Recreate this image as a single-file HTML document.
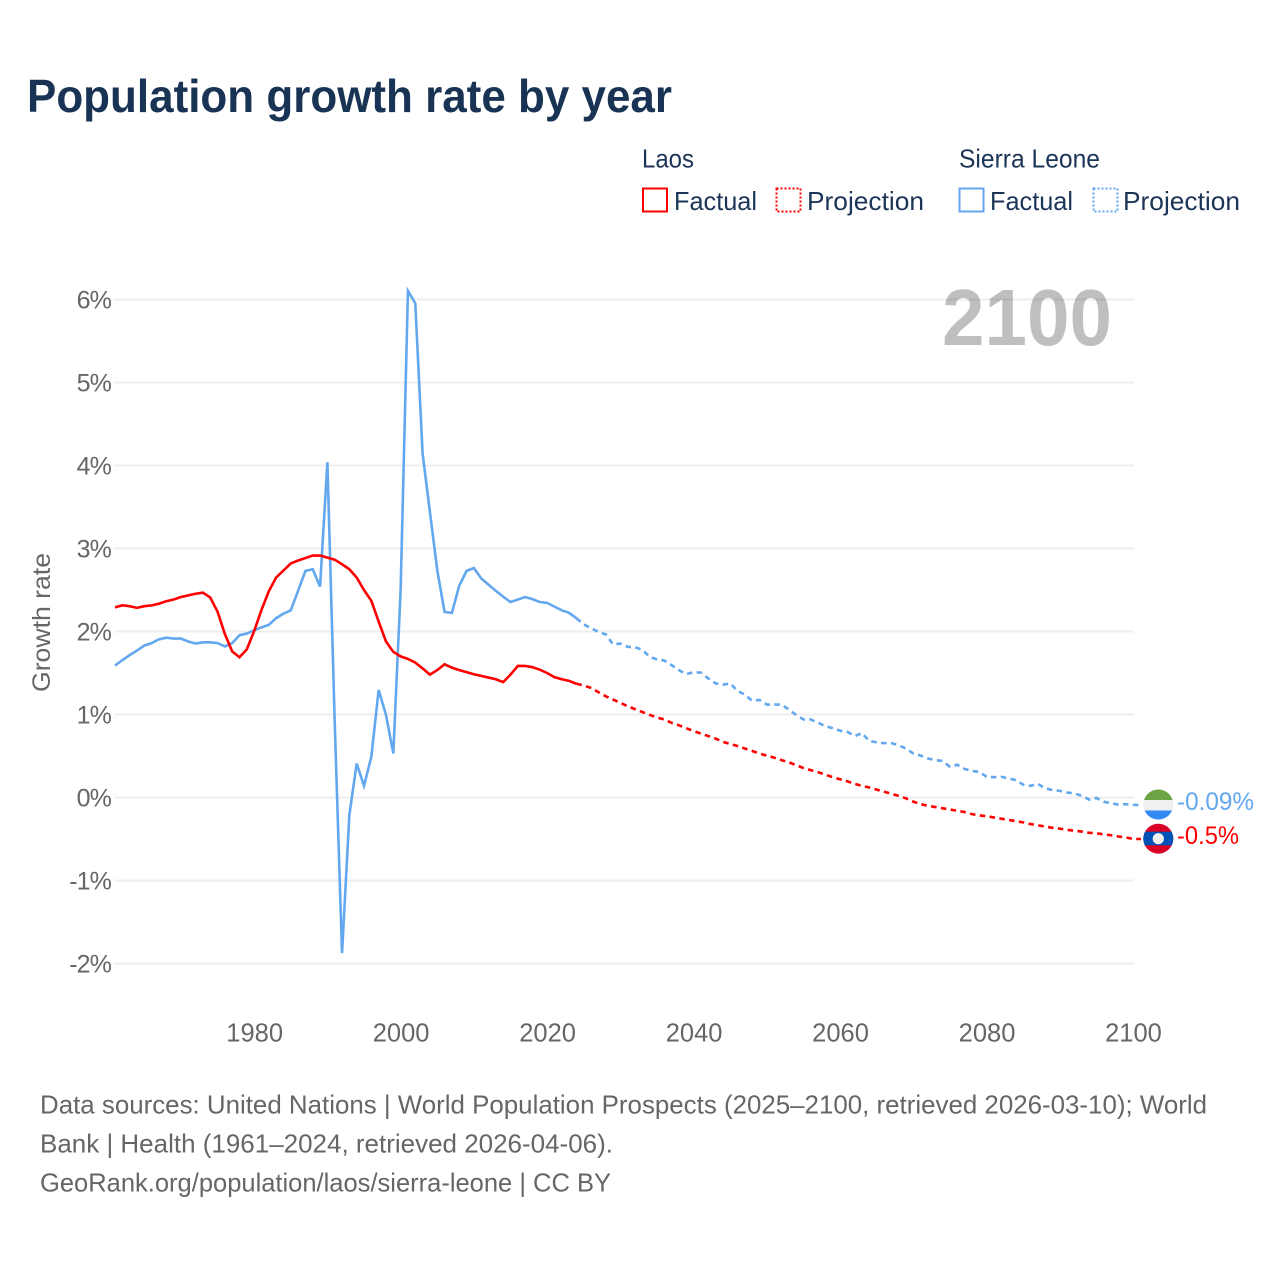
<!DOCTYPE html>
<html lang="en">
<head>
<meta charset="utf-8">
<title>Population growth rate by year</title>
<style>
html,body{margin:0;padding:0;background:#fff;}
svg{display:block;font-family:"Liberation Sans",sans-serif;}
</style>
</head>
<body>
<svg id="chart" xmlns="http://www.w3.org/2000/svg" width="1280" height="1280" viewBox="0 0 1280 1280">
  <rect x="0" y="0" width="1280" height="1280" fill="#fff"/>
  <text x="27" y="112" font-size="46" font-weight="700" fill="#193354" textLength="645" lengthAdjust="spacingAndGlyphs">Population growth rate by year</text>

  <g font-size="26" fill="#1c3557">
    <text x="642" y="167.5" textLength="52" lengthAdjust="spacingAndGlyphs">Laos</text>
    <rect x="643" y="188.5" width="24" height="23" fill="none" stroke="#ff0000" stroke-width="2"/>
    <text x="674" y="210" textLength="83" lengthAdjust="spacingAndGlyphs">Factual</text>
    <rect x="776.5" y="188.5" width="24" height="23" fill="none" stroke="#ff0000" stroke-width="2" stroke-dasharray="2 2"/>
    <text x="807" y="210" textLength="117" lengthAdjust="spacingAndGlyphs">Projection</text>
    <text x="959" y="167.5" textLength="141" lengthAdjust="spacingAndGlyphs">Sierra Leone</text>
    <rect x="959.5" y="188.5" width="24" height="23" fill="none" stroke="#63a8ee" stroke-width="2"/>
    <text x="990" y="210" textLength="83" lengthAdjust="spacingAndGlyphs">Factual</text>
    <rect x="1093.5" y="188.5" width="24" height="23" fill="none" stroke="#63a8ee" stroke-width="2" stroke-dasharray="2 2"/>
    <text x="1123" y="210" textLength="117" lengthAdjust="spacingAndGlyphs">Projection</text>
  </g>

  <g id="grid"></g>
  <g id="yticks"></g>
  <g id="xticks"></g>
  <text transform="translate(50,622.5) rotate(-90)" text-anchor="middle" font-size="25" fill="#666" textLength="139" lengthAdjust="spacingAndGlyphs">Growth rate</text>
  <text id="year-label" x="942" y="345" font-size="80" font-weight="700" fill="#000" fill-opacity="0.25" textLength="170" lengthAdjust="spacingAndGlyphs">2100</text>
  <g id="series"></g>

  <g>
    <clipPath id="clip-sl"><circle cx="1158.3" cy="804.5" r="15"/></clipPath>
    <g clip-path="url(#clip-sl)">
      <rect x="1143" y="789" width="31" height="11" fill="#6da544"/>
      <rect x="1143" y="800" width="31" height="10.5" fill="#f0f0f0"/>
      <rect x="1143" y="810.5" width="31" height="10" fill="#338af3"/>
    </g>
  </g>
  <g>
    <clipPath id="clip-la"><circle cx="1158.3" cy="838.7" r="15"/></clipPath>
    <g clip-path="url(#clip-la)">
      <rect x="1143" y="823" width="31" height="31" fill="#d80027"/>
      <rect x="1143" y="831.7" width="31" height="13.6" fill="#0052b4"/>
      <circle cx="1158.3" cy="838.7" r="5.6" fill="#f0f0f0"/>
    </g>
  </g>
  <text id="label-sl" x="1177" y="810" font-size="25" fill="#63a8ee" textLength="77" lengthAdjust="spacingAndGlyphs">-0.09%</text>
  <text id="label-la" x="1177" y="844" font-size="25" fill="#ff0000" textLength="62" lengthAdjust="spacingAndGlyphs">-0.5%</text>

  <g font-size="26" fill="#666">
    <text x="40" y="1113.5" textLength="1167" lengthAdjust="spacingAndGlyphs">Data sources: United Nations | World Population Prospects (2025–2100, retrieved 2026-03-10); World</text>
    <text x="40" y="1152.5" textLength="573" lengthAdjust="spacingAndGlyphs">Bank | Health (1961–2024, retrieved 2026-04-06).</text>
    <text x="40" y="1191.5" textLength="571" lengthAdjust="spacingAndGlyphs">GeoRank.org/population/laos/sierra-leone | CC BY</text>
  </g>
</svg>
<script>
var xTickYears = [1980, 2000, 2020, 2040, 2060, 2080, 2100];
var yTickValues = [6, 5, 4, 3, 2, 1, 0, -1, -2];
var factualStartYear = 1961;

var laosFactual = [
  2.29,2.315,2.305,2.285,2.305,2.315,2.335,2.365,2.385,2.415,
  2.435,2.455,2.468,2.41,2.24,1.97,1.76,1.69,1.785,2.005,
  2.26,2.485,2.65,2.735,2.82,2.855,2.885,2.915,2.915,2.89,
  2.865,2.81,2.75,2.65,2.50,2.37,2.12,1.88,1.755,1.70,
  1.67,1.625,1.555,1.48,1.535,1.605,1.565,1.535,1.51,1.485,
  1.465,1.445,1.425,1.39,1.48,1.585,1.585,1.57,1.54,1.50,
  1.45,1.425,1.405,1.37
];
var laosProjection = [
  1.35,1.32,1.27,1.22,1.18,1.14,1.10,1.065,1.03,0.995,
  0.965,0.94,0.90,0.87,0.835,0.80,0.77,0.74,0.71,0.67,
  0.645,0.62,0.59,0.56,0.53,0.505,0.48,0.45,0.425,0.39,
  0.355,0.33,0.305,0.275,0.245,0.22,0.195,0.165,0.14,0.12,
  0.095,0.07,0.045,0.02,-0.01,-0.05,-0.08,-0.10,-0.115,-0.13,
  -0.145,-0.16,-0.175,-0.20,-0.215,-0.225,-0.24,-0.255,-0.27,-0.285,
  -0.30,-0.32,-0.335,-0.35,-0.365,-0.375,-0.39,-0.40,-0.41,-0.425,
  -0.43,-0.445,-0.455,-0.47,-0.48,-0.5
];
var sierraFactual = [
  1.59,1.655,1.715,1.77,1.83,1.86,1.905,1.925,1.915,1.915,
  1.88,1.855,1.87,1.87,1.86,1.82,1.86,1.955,1.975,2.015,
  2.05,2.08,2.16,2.215,2.255,2.49,2.73,2.75,2.54,4.04,
  0.91,-1.875,-0.21,0.41,0.14,0.49,1.295,0.995,0.53,2.5,
  6.105,5.955,4.145,3.44,2.74,2.235,2.225,2.55,2.73,2.765,
  2.64,2.565,2.49,2.42,2.355,2.385,2.415,2.39,2.355,2.345,
  2.30,2.255,2.225,2.16
];
var sierraProjection = [
  2.085,2.04,1.995,1.965,1.845,1.855,1.815,1.81,1.78,1.695,
  1.665,1.65,1.595,1.535,1.485,1.51,1.505,1.435,1.375,1.36,
  1.375,1.285,1.24,1.165,1.175,1.12,1.12,1.12,1.06,0.995,
  0.94,0.94,0.90,0.86,0.835,0.805,0.79,0.74,0.775,0.68,
  0.665,0.655,0.655,0.63,0.59,0.53,0.505,0.47,0.45,0.44,
  0.37,0.395,0.345,0.32,0.31,0.25,0.245,0.25,0.23,0.21,
  0.155,0.14,0.165,0.11,0.09,0.08,0.06,0.05,0.02,-0.025,
  -0.005,-0.05,-0.07,-0.085,-0.08,-0.09
];

var SVG_NS = 'http://www.w3.org/2000/svg';
function xScale(year) { return 115 + (year - 1961) * (1133 - 115) / (2100 - 1961); }
function yScale(value) { return 797.5 - value * 83; }

function seriesPoints(values, startYear) {
  var pts = [];
  for (var i = 0; i < values.length; i++) {
    pts.push(xScale(startYear + i).toFixed(2) + ',' + yScale(values[i]).toFixed(2));
  }
  return pts;
}

var gridGroup = document.getElementById('grid');
var yTickGroup = document.getElementById('yticks');
yTickValues.forEach(function (v) {
  var ln = document.createElementNS(SVG_NS, 'line');
  
  
  ln.setAttribute('x1', 115);
  ln.setAttribute('x2', 1133.5);
  ln.setAttribute('y1', yScale(v));
  ln.setAttribute('y2', yScale(v));
  ln.setAttribute('stroke', '#eeeeee');
  ln.setAttribute('stroke-width', 2);
  gridGroup.appendChild(ln);

  var t = document.createElementNS(SVG_NS, 'text');
  
  
  t.setAttribute('x', 111);
  t.setAttribute('y', yScale(v) + 9);
  t.setAttribute('text-anchor', 'end');
  t.setAttribute('font-size', 25);
  t.setAttribute('letter-spacing', '-0.9');
  t.setAttribute('fill', '#666');
  t.textContent = v + '%';
  yTickGroup.appendChild(t);
});

var xTickGroup = document.getElementById('xticks');
xTickYears.forEach(function (y) {
  var t = document.createElementNS(SVG_NS, 'text');
  
  
  t.setAttribute('x', xScale(y) + 0.5);
  t.setAttribute('y', 1041.5);
  t.setAttribute('text-anchor', 'middle');
  t.setAttribute('font-size', 25.5);
  t.setAttribute('fill', '#666');
  t.textContent = y;
  xTickGroup.appendChild(t);
});

var seriesGroup = document.getElementById('series');
function drawSeries(factual, projection, color, key) {
  var f = seriesPoints(factual, factualStartYear);
  var p = seriesPoints(projection, factualStartYear + factual.length);

  var fl = document.createElementNS(SVG_NS, 'polyline');
  
  
  fl.setAttribute('points', f.join(' '));
  fl.setAttribute('fill', 'none');
  fl.setAttribute('stroke', color);
  fl.setAttribute('stroke-width', 2.6);
  fl.setAttribute('stroke-linejoin', 'miter');
  seriesGroup.appendChild(fl);

  var endY = yScale(projection[projection.length - 1]);
  var full = [f[f.length - 1]].concat(p);
  full.push((xScale(2100) + 8).toFixed(2) + ',' + endY.toFixed(2));
  var pl = document.createElementNS(SVG_NS, 'polyline');
  
  
  pl.setAttribute('points', full.join(' '));
  pl.setAttribute('fill', 'none');
  pl.setAttribute('stroke', color);
  pl.setAttribute('stroke-width', 2.6);
  pl.setAttribute('stroke-dasharray', '5.5 4.4');
  seriesGroup.appendChild(pl);
}
drawSeries(sierraFactual, sierraProjection, '#63a8ee', 'sierra-leone');
drawSeries(laosFactual, laosProjection, '#ff0000', 'laos');
</script>
</body>
</html>
